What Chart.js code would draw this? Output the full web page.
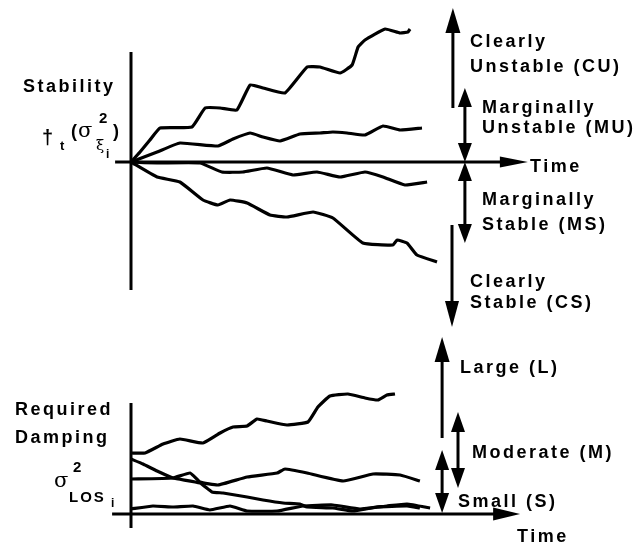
<!DOCTYPE html>
<html>
<head>
<meta charset="utf-8">
<script src="https://cdn.jsdelivr.net/npm/chart.js@4/dist/chart.umd.min.js"></script>
<style>
  html, body { margin: 0; padding: 0; background: #fff; }
  #wrap { width: 639px; height: 543px; }
</style>
</head>
<body>
<div id="wrap"><canvas id="schema" width="639" height="543"></canvas></div>
<script>
// --- Stability (upper panel): time vs stability value ---
const cuT = [0, 3, 6.3, 9.7, 20.3, 24.7, 29.7, 35.3, 39.7, 44, 51.3, 58.7, 63, 69.7, 73.7, 75.7, 78, 84.7, 89.7, 92.3, 93];
const cuS = [0, 5, 11, 17, 17.5, 27, 27, 26, 38.5, 37, 34.5, 47.5, 47.5, 44.5, 48.5, 57.5, 61, 66.5, 64.5, 65, 66.5];

const muT = [0, 8.7, 16.3, 29, 34, 39.7, 44, 49.7, 56.3, 63, 67.3, 72, 78, 84, 89.7, 97];
const muS = [0, 5, 9.5, 8, 11.5, 14.5, 12.5, 10.5, 14, 14.5, 15, 14.5, 13.5, 18, 16, 17];

const msT = [0, 8.7, 23, 30.3, 37.3, 45.3, 54, 62, 69.7, 78, 84, 91.3, 98.7];
const msS = [0, -0.5, -0.5, -5, -5, -3, -6.5, -5, -7.5, -5, -7.5, -11.5, -10];

const csT = [0, 8.7, 16.3, 24, 29, 33, 38.7, 46.3, 52, 60.7, 67.3, 77.3, 87.3, 88.7, 92, 95.3, 102];
const csS = [0, -7.5, -10, -19, -21.5, -19, -20.5, -26.5, -27.5, -25, -28, -40.5, -41.5, -39, -40.5, -46.5, -50];

// --- Required damping (lower panel) ---
const lgT = [0, 4.7, 10.7, 16.3, 24, 29.7, 34, 38.7, 42, 45.3, 52, 59, 62.3, 66.3, 72.3, 78, 82.3, 85.3, 88];
const lgD = [30.5, 30.5, 35, 37.5, 35.5, 40.5, 43.5, 44, 47.5, 46.5, 44.5, 46, 53.5, 59, 60, 58, 57, 59.5, 60];

const m1T = [0, 4, 8.7, 14, 23, 27, 30.7, 38.7, 44, 50.7, 56.3, 58.7, 67.3, 74, 82, 92, 96.3];
const m1D = [27.5, 25, 21.5, 18, 15.5, 11, 10.5, 8.5, 7, 5.5, 5, 3.5, 3, 1.5, 3.5, 4, 3];

const m2T = [0, 14, 19.7, 23, 29, 38.7, 48.7, 51.3, 58.7, 70.7, 80.7, 89.7, 96.3];
const m2D = [17.5, 18, 20.5, 16, 14.5, 18.5, 20.5, 22.5, 20.5, 16.5, 20, 19.5, 16.5];

const smT = [0, 7.3, 14, 20.7, 26.3, 33, 38.7, 48.7, 57.3, 67.3, 76.3, 85.3, 92, 99.7];
const smD = [2.5, 4, 3.5, 4, 2, 4, 1.5, 1.5, 4, 4.5, 2.5, 4, 5, 3];

// labels of the two panels
const topRanges = ['Clearly', 'Unstable (CU)', 'Marginally', 'Unstable (MU)', 'Marginally', 'Stable (MS)', 'Clearly', 'Stable (CS)'];
const botRanges = ['Large (L)', 'Moderate (M)', 'Small (S)'];

const pts = (xs, ys) => xs.map((x, i) => ({ x: x, y: ys[i] }));

function serie(xs, ys, axis) {
    return {
        data: pts(xs, ys),
        yAxisID: axis,
        borderColor: '#000',
        borderWidth: 3.2,
        pointRadius: 0,
        tension: 0.12,
        fill: false
    };
}

// fleche verticale (shaft + tetes)
function vArrow(ctx, x, y0, y1, headStart, headEnd, len, half) {
    const dir = y1 < y0 ? -1 : 1;
    const a = headStart ? y0 + dir * len * 0.8 : y0;
    const b = headEnd ? y1 - dir * len * 0.8 : y1;
    ctx.beginPath(); ctx.moveTo(x, a); ctx.lineTo(x, b); ctx.stroke();
    if (headEnd) {
        ctx.beginPath(); ctx.moveTo(x, y1); ctx.lineTo(x - half, y1 - dir * len); ctx.lineTo(x + half, y1 - dir * len); ctx.closePath(); ctx.fill();
    }
    if (headStart) {
        ctx.beginPath(); ctx.moveTo(x, y0); ctx.lineTo(x - half, y0 + dir * len); ctx.lineTo(x + half, y0 + dir * len); ctx.closePath(); ctx.fill();
    }
}

function hArrow(ctx, x0, x1, y, len, half) {
    ctx.beginPath(); ctx.moveTo(x0, y); ctx.lineTo(x1 - len * 0.8, y); ctx.stroke();
    ctx.beginPath(); ctx.moveTo(x1, y); ctx.lineTo(x1 - len, y - half); ctx.lineTo(x1 - len, y + half); ctx.closePath(); ctx.fill();
}

function txt(ctx, s, x, y, size, opts) {
    opts = opts || {};
    ctx.font = (opts.weight || 'bold') + ' ' + size + 'px ' + (opts.family || '"Liberation Sans", Arial, sans-serif');
    ctx.letterSpacing = (opts.spacing !== undefined ? opts.spacing : 2.5) + 'px';
    ctx.textAlign = 'left';
    ctx.textBaseline = 'alphabetic';
    ctx.fillText(s, x, y);
}

const decor = {
    id: 'decor',
    afterDatasetsDraw(chart) {
        const ctx = chart.ctx;
        const X = v => chart.scales.x.getPixelForValue(v);
        const YT = v => chart.scales.yTop.getPixelForValue(v);
        const YB = v => chart.scales.yBot.getPixelForValue(v);
        ctx.save();
        ctx.fillStyle = '#000';
        ctx.strokeStyle = '#000';
        ctx.lineWidth = 3;

        // axes du haut
        ctx.beginPath(); ctx.moveTo(X(0), YT(55)); ctx.lineTo(X(0), YT(-64)); ctx.stroke();
        hArrow(ctx, X(-5.3), X(132.3), YT(0), 28, 5.5);
        // axes du bas
        ctx.beginPath(); ctx.moveTo(X(0), YB(55.5)); ctx.lineTo(X(0), YB(-7)); ctx.stroke();
        hArrow(ctx, X(-6.3), X(129.7), YB(0), 27, 6.5);

        // fleches de plage (haut)
        vArrow(ctx, X(107.3), YT(27), YT(77), false, true, 25, 7.5);
        vArrow(ctx, X(111.3), YT(37), YT(0), true, true, 19, 7);
        vArrow(ctx, X(111.3), YT(0), YT(-40.5), true, true, 19, 7);
        vArrow(ctx, X(107), YT(-31.5), YT(-82.5), false, true, 26, 7);
        // fleches de plage (bas)
        vArrow(ctx, X(103.7), YB(38), YB(88.5), false, true, 25, 7.5);
        vArrow(ctx, X(109), YB(51), YB(13), true, true, 20, 7);
        vArrow(ctx, X(103.7), YB(32), YB(0.5), true, true, 20, 7);

        // textes a droite
        txt(ctx, topRanges[0], X(113), YT(57.5), 18);
        txt(ctx, topRanges[1], X(113), YT(45), 18);
        txt(ctx, topRanges[2], X(117), YT(24.5), 18);
        txt(ctx, topRanges[3], X(117), YT(14.5), 18);
        txt(ctx, 'Time', X(133), YT(-5), 18);
        txt(ctx, topRanges[4], X(117), YT(-21.5), 18);
        txt(ctx, topRanges[5], X(117), YT(-34), 18);
        txt(ctx, topRanges[6], X(113), YT(-62.5), 18);
        txt(ctx, topRanges[7], X(113), YT(-73), 18);

        txt(ctx, botRanges[0], X(109.7), YB(70.5), 18);
        txt(ctx, botRanges[1], X(113.7), YB(28), 18);
        txt(ctx, botRanges[2], X(109), YB(3.5), 18);
        txt(ctx, 'Time', X(128.7), YB(-14), 18);

        // titres a gauche
        txt(ctx, 'Stability', X(-36), YT(35), 18);
        const ox = X(0), oy = YT(0);
        txt(ctx, '\u2020', ox - 89, oy - 18, 20, { spacing: 0 });
        txt(ctx, 't', ox - 71, oy - 12, 13, { spacing: 0 });
        txt(ctx, '(', ox - 60, oy - 25, 18, { spacing: 0 });
        txt(ctx, '\u03C3', ox - 53, oy - 25, 21, { weight: 'normal', family: '"DejaVu Serif", serif', spacing: 0 });
        txt(ctx, '2', ox - 32, oy - 39, 15, { spacing: 0 });
        txt(ctx, '\u03BE', ox - 35, oy - 12, 15, { weight: 'normal', family: '"DejaVu Serif", serif', spacing: 0 });
        txt(ctx, 'i', ox - 25, oy - 4, 12, { spacing: 0 });
        txt(ctx, ')', ox - 18, oy - 25, 18, { spacing: 0 });

        const bx = X(0), by = YB(0);
        txt(ctx, 'Required', X(-38.7), YB(49.5), 18);
        txt(ctx, 'Damping', X(-38.7), YB(35.5), 18);
        txt(ctx, '\u03C3', bx - 77, by - 27, 21, { weight: 'normal', family: '"DejaVu Serif", serif', spacing: 0 });
        txt(ctx, '2', bx - 58, by - 42, 15, { spacing: 0 });
        txt(ctx, 'LOS', bx - 62, by - 12, 15, { spacing: 2 });
        txt(ctx, 'i', bx - 20, by - 7, 12, { spacing: 0 });

        ctx.restore();
    }
};

new Chart(document.getElementById('schema'), {
    type: 'line',
    data: {
        datasets: [
            serie(cuT, cuS, 'yTop'),
            serie(muT, muS, 'yTop'),
            serie(msT, msS, 'yTop'),
            serie(csT, csS, 'yTop'),
            serie(lgT, lgD, 'yBot'),
            serie(m1T, m1D, 'yBot'),
            serie(m2T, m2D, 'yBot'),
            serie(smT, smD, 'yBot')
        ]
    },
    options: {
        responsive: false,
        animation: false,
        devicePixelRatio: 1,
        layout: { padding: 0 },
        plugins: {
            legend: { display: false },
            tooltip: { enabled: false }
        },
        scales: {
            x: { type: 'linear', min: -131 / 3, max: 508 / 3, display: false },
            yTop: { type: 'linear', min: -190.5, max: 81, display: false },
            yBot: { type: 'linear', min: -14.5, max: 257, display: false }
        }
    },
    plugins: [decor]
});
</script>
</body>
</html>
